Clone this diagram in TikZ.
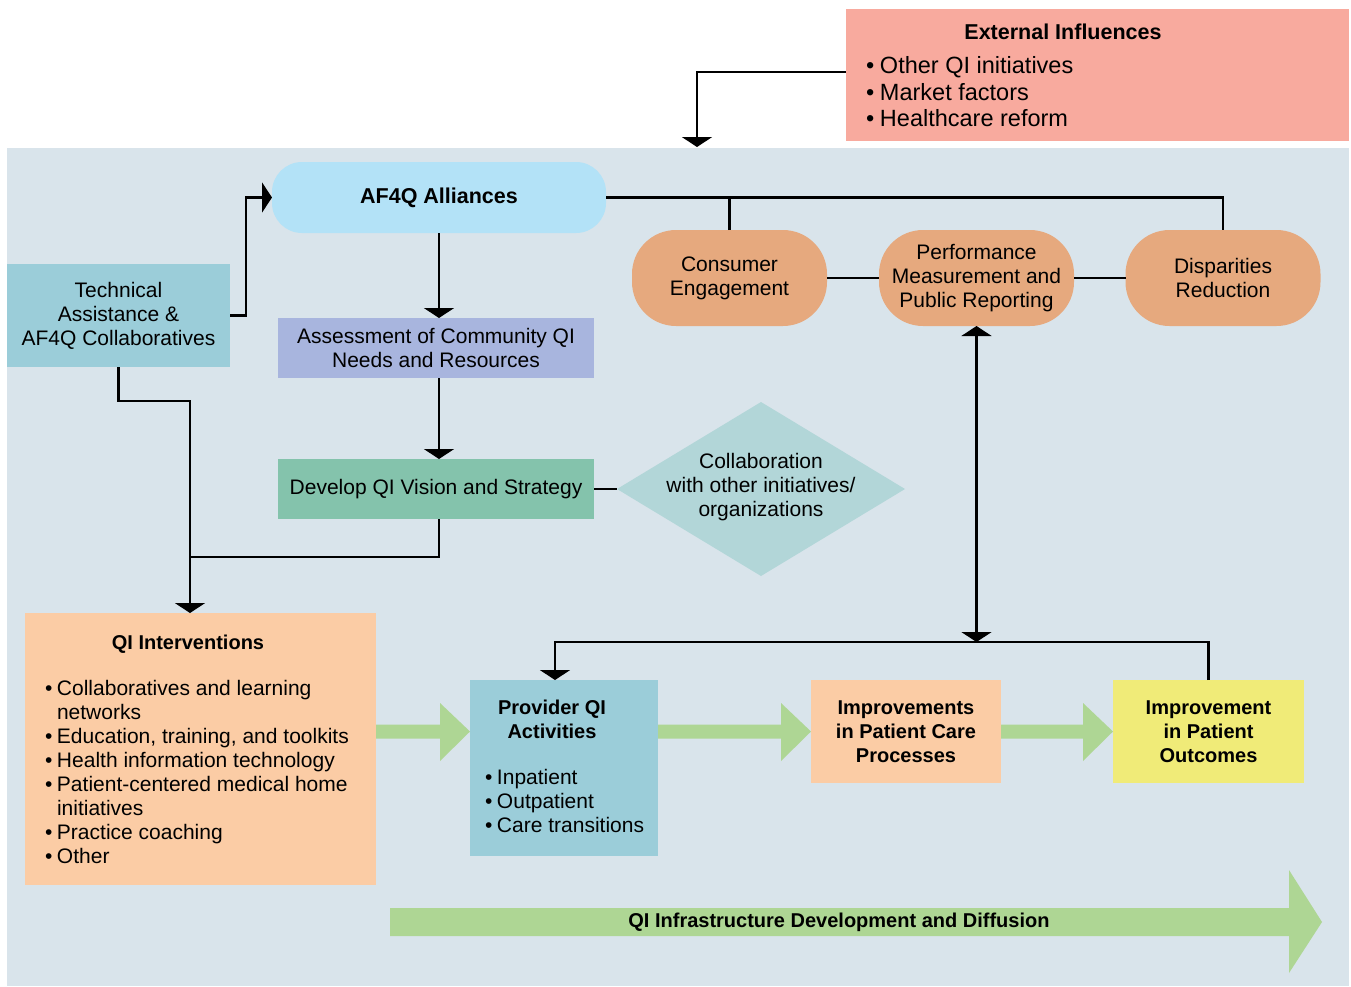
\documentclass[tikz,border=0pt]{standalone}
\usepackage{fontspec}
\setmainfont{Liberation Sans}
\usetikzlibrary{arrows.meta}
\definecolor{bgc}{RGB}{217,228,235}
\definecolor{extc}{RGB}{248,170,158}
\definecolor{af4qc}{RGB}{179,226,247}
\definecolor{techc}{RGB}{155,205,217}
\definecolor{assessc}{RGB}{168,181,222}
\definecolor{devc}{RGB}{132,195,172}
\definecolor{diamc}{RGB}{178,214,216}
\definecolor{ovalc}{RGB}{230,169,126}
\definecolor{peachc}{RGB}{251,204,165}
\definecolor{yelc}{RGB}{240,235,120}
\definecolor{grnc}{RGB}{174,214,148}
\newcommand\rgf{\fontsize{21}{24}\selectfont}
\newcommand\exf{\fontsize{23.5}{26.5}\selectfont}
\newcommand\bdf{\fontsize{20}{24}\selectfont\bfseries}
\newcommand\bdlf{\fontsize{21.5}{24}\selectfont\bfseries}
\newcommand\blt{\makebox[12pt][l]{•}}
\newcommand\bltx{\makebox[14pt][l]{•}}
\newcommand\indt{\hspace*{12pt}}
\newcommand\fatarr[3]{\fill[grnc] (#1 |- 0,724.5) -- (#2,724.5) -- (#2,703) -- (#3 |- 0,731.5) -- (#2,761) -- (#2,738.5) -- (#1 |- 0,738.5) -- cycle;}
\begin{document}
\begin{tikzpicture}[x=1pt,y=-1pt,
  line width=2.2pt,
  tip/.tip={Triangle[width=30pt,length=10pt]},
  arr/.style={-tip},
  box/.style={inner sep=0pt, outer sep=0pt, align=center, font=\rgf},
  txt/.style={inner sep=0pt, outer sep=0pt},
  oval/.style={box, fill=ovalc, rounded corners=44pt, minimum width=195pt, minimum height=96pt}]
\useasboundingbox (0,0) rectangle (1351,986);
\node[box, fill=bgc, minimum width=1342pt, minimum height=838pt, anchor=north west] (bg) at (7,148) {};
% external influences
\node[box, fill=extc, minimum width=503pt, minimum height=132pt] (ext) at (1097.5,75) {};
\node[txt, font=\bdlf] (exttitle) at (1063,32) {External Influences};
\node[txt, font=\exf, align=left, anchor=west] (extlist) at (866,92) {\bltx Other QI initiatives\\\bltx Market factors\\\bltx Healthcare reform};
% main nodes
\node[box, fill=af4qc, rounded corners=30pt, minimum width=334pt, minimum height=71pt, font=\bdlf] (af4q) at (439,197.5) {AF4Q Alliances};
\node[box, fill=techc, minimum width=223pt, minimum height=103pt] (tech) at (118.5,315.5) {Technical\\Assistance \&\\AF4Q Collaboratives};
\node[box, fill=assessc, minimum width=316pt, minimum height=60pt] (assess) at (436,348) {Assessment of Community QI\\Needs and Resources};
\node[box, fill=devc, minimum width=316pt, minimum height=60pt] (dev) at (436,489) {Develop QI Vision and Strategy};
\fill[diamc] (617,489) -- (761,402) -- (905,489) -- (761,576) -- cycle;
\coordinate (collabW) at (617,489);
\node[box] (collab) at (761,487) {Collaboration\\with other initiatives/\\organizations};
\node[oval] (cons) at (729.5,278) {Consumer\\Engagement};
\node[oval] (perf) at (976.5,278) {Performance\\Measurement and\\Public Reporting};
\node[oval] (disp) at (1223,278) {Disparities\\Reduction};
% lower nodes
\node[box, fill=peachc, minimum width=351pt, minimum height=272pt] (qi) at (200.5,749) {};
\node[txt, font=\bdf] (qititle) at (188,644) {QI Interventions};
\node[txt, font=\rgf, align=left, anchor=west] (qilist) at (45,772) {\blt Collaboratives and learning\\\indt networks\\\blt Education, training, and toolkits\\\blt Health information technology\\\blt Patient-centered medical home\\\indt initiatives\\\blt Practice coaching\\\blt Other};
\node[box, fill=techc, minimum width=188pt, minimum height=176pt] (prov) at (564,768) {};
\node[txt, font=\bdf, align=center] (provt) at (552,719) {Provider QI\\Activities};
\node[txt, font=\rgf, align=left, anchor=west] (provl) at (485,801) {\blt Inpatient\\\blt Outpatient\\\blt Care transitions};
\node[box, fill=peachc, minimum width=190pt, minimum height=103pt, font=\bdf] (impr) at (906,731.5) {Improvements\\in Patient Care\\Processes};
\node[box, fill=yelc, minimum width=191pt, minimum height=103pt, font=\bdf] (outc) at (1208.5,731.5) {Improvement\\in Patient\\Outcomes};
% fat arrows
\fatarr{qi.east}{440}{prov.west}
\fatarr{prov.east}{781}{impr.west}
\fatarr{impr.east}{1083}{outc.west}
\fill[grnc] (390,908) -- (1289,908) -- (1289,870) -- (1322,922) -- (1289,973) -- (1289,936) -- (390,936) -- cycle;
\node[txt, font=\bdf] (infra) at (839,922) {QI Infrastructure Development and Diffusion};
% connectors
\coordinate (extin) at (697,147);
\coordinate (qiin) at ([xshift=-10.5pt]qi.north);
\coordinate (provin) at ([xshift=-9pt]prov.north);
\draw[arr] ([yshift=3pt]ext.west) -| (extin);
\draw[arr] (tech.east) -- ++(16,0) |- (af4q.west);
\draw[arr] (af4q.south) -- (af4q.south |- assess.north);
\draw[arr] (af4q.south |- assess.south) -- (af4q.south |- dev.north);
\draw (dev.east) -- (collabW);
\draw[arr] (tech.south) |- (qiin |- 0,401) -- (qiin);
\draw (af4q.south |- dev.south) |- (qiin |- 0,557);
\draw (af4q.east) -| (disp.north);
\draw (cons.north) -- (cons.north |- af4q.east);
\draw (cons.east) -- (perf.west);
\draw (perf.east) -- (disp.west);
\draw[tip-tip] (perf.south) -- (perf.south |- 0,642);
\draw[arr] (outc.north) |- (provin |- 0,642) -- (provin);
\end{tikzpicture}
\end{document}
